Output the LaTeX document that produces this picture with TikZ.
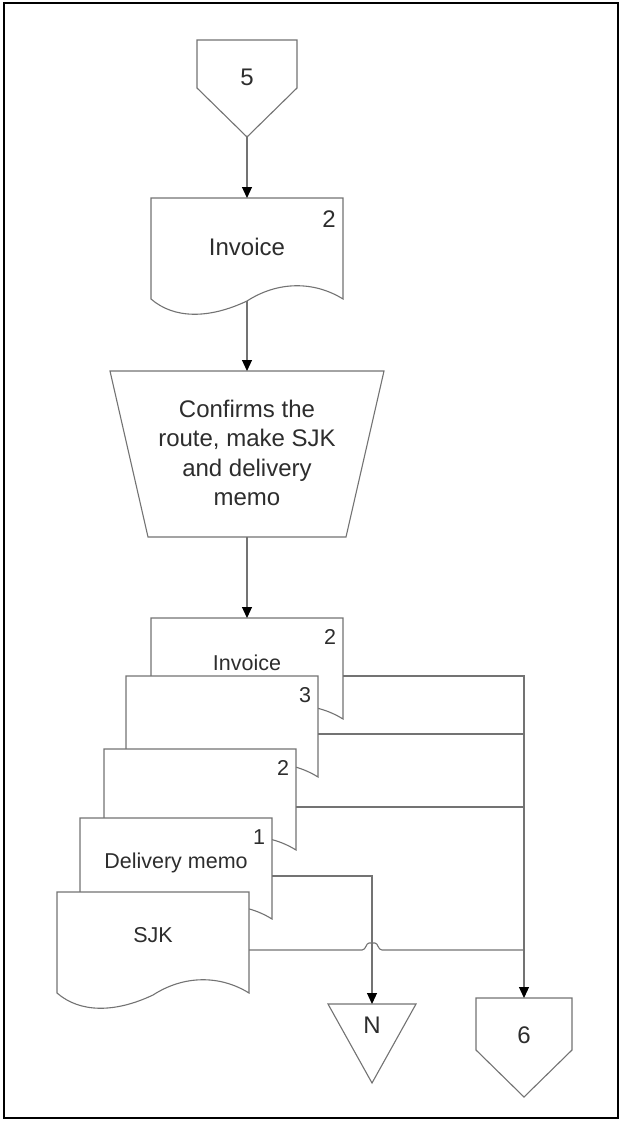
\documentclass[tikz,border=0pt]{standalone}
\usepackage{fontspec}
\setmainfont{Liberation Sans}
\usetikzlibrary{arrows.meta,calc}
\definecolor{edge}{RGB}{115,115,115}
\definecolor{ink}{RGB}{45,45,45}
\tikzset{
  x=1pt, y=-1pt,
  outline/.style={draw=edge, line width=1.1pt, fill=white},
  link/.style={draw=edge, line width=1.1pt},
  flow/.style={link, -{Triangle[length=11pt,width=10pt,color=black]}},
  big/.style={text=ink, font=\fontsize{24}{29.3}\selectfont, inner sep=0pt},
  small/.style={text=ink, font=\fontsize{21.5}{26}\selectfont, inner sep=0pt},
  % document symbol with a wavy lower edge
  pics/doc/.style={code={
    \draw[outline] (0,0) -- (192,0) -- (192,101)
      .. controls (163,83) and (127,83) .. (96,103)
      .. controls (58,121) and (23,121) .. (0,101) -- cycle;
    \coordinate (-top) at (96,0);
    \coordinate (-bot) at (96,103);
    \coordinate (-out) at (192,58);
    \coordinate (-mid) at (96,45);
    \coordinate (-num) at (179,19);
  }},
}
\begin{document}
\begin{tikzpicture}
\useasboundingbox (0,0) rectangle (621,1121);
\draw[line width=2pt] (3.5,3.5) rectangle (617.5,1117.5);

% off-page connector 5
\draw[outline] (197,40) -- (297,40) -- (297,88) -- (247,137) -- (197,88) -- cycle;
\node[big] (p5) at (247,77) {5};
\coordinate (p5-tip) at (247,137);

% incoming invoice
\pic (inv) at (151,198) {doc};
\node[big] (inv-txt) at ($(inv-top)+(0,49)$) {Invoice};
\node[big] (inv-n) at ($(inv-top)+(82,21)$) {2};

% manual operation
\draw[outline] (110,371) -- (384,371) -- (346,537) -- (148,537) -- cycle;
\coordinate (op-top) at (247,371);
\coordinate (op-bot) at (247,537);
\node[big, align=center] (op) at (247,453) {Confirms the\\route, make SJK\\and delivery\\memo};

% stack of output documents
\pic (A) at (151,618) {doc};
\node[small] (A-txt) at (A-mid) {Invoice};
\node[small] (A-n) at (A-num) {2};
\pic (B) at (126,676) {doc};
\node[small] (B-n) at (B-num) {3};
\pic (C) at (104,749) {doc};
\node[small] (C-n) at (C-num) {2};
\pic (D) at (80,818) {doc};
\node[small] (D-txt) at (D-mid) {Delivery memo};
\node[small] (D-n) at (D-num) {1};
\pic (E) at (57,892) {doc};
\node[small] (E-txt) at ($(E-mid)+(0,-2)$) {SJK};

% off-page connector N
\draw[outline] (328,1004) -- (416,1004) -- (372,1083) -- cycle;
\coordinate (N-top) at (372,1004);
\node[big] (N) at (372,1025) {N};

% off-page connector 6
\draw[outline] (476,998) -- (572,998) -- (572,1050) -- (524,1097) -- (476,1050) -- cycle;
\coordinate (six-top) at (524,998);
\node[big] (six) at (524,1035) {6};

% connectors
\draw[flow] (p5-tip) -- (inv-top);
\draw[flow] (inv-bot) -- (op-top);
\draw[flow] (op-bot) -- (A-top);
\draw[flow] (A-out) -| (six-top);
\draw[link] (B-out) -- (B-out -| six-top);
\draw[link] (C-out) -- (C-out -| six-top);
\draw[flow] (D-out) -| (N-top);
\draw[link] (E-out) -- ($(E-out -| N-top)+(-10,0)$)
  .. controls +(4,0) and +(-3,0) .. ++(7,-7) -- ++(6,0)
  .. controls +(3,0) and +(-4,0) .. ++(7,7) -- (E-out -| six-top);
\end{tikzpicture}
\end{document}
